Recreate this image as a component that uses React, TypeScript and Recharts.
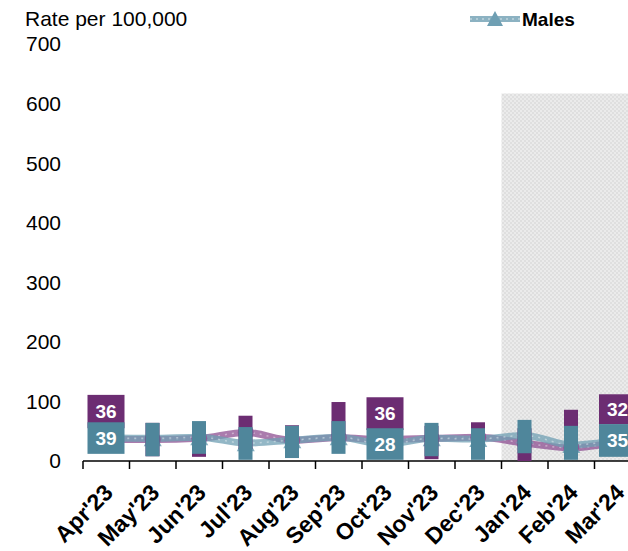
import { ComposedChart, Line, Bar, XAxis, YAxis } from "recharts";

const months = [
  "Apr'23", "May'23", "Jun'23", "Jul'23", "Aug'23", "Sep'23",
  "Oct'23", "Nov'23", "Dec'23", "Jan'24", "Feb'24", "Mar'24",
];
const females = [36, 36, 38, 48, 35, 39, 36, 38, 40, 30, 22, 32];
const males = [39, 38, 40, 30, 35, 40, 28, 38, 37, 43, 27, 35];

// label box extents (rate units) as they sit in the original
const femaleBoxLow = [55, 8, 7, 20, 5, 44, 52, 3, 10, 0, 30, 62];
const femaleBoxHigh = [111, 64, 62, 76, 60, 99, 107, 59, 65, 55, 86, 112];
const maleBoxLow = [12, 8, 12, 2, 5, 12, 2, 8, 2, 13, 2, 7];
const maleBoxHigh = [65, 64, 67, 57, 59, 67, 55, 64, 55, 69, 59, 62];

const shadeTop = [null, null, null, null, null, null, null, null, null, 617, 617, 617];
const labelledMonths = ["Apr'23", "Oct'23", "Mar'24"];
const yTicks = [0, 100, 200, 300, 400, 500, 600, 700];

const data = months.map((month, i) => ({
  month,
  females: females[i],
  males: males[i],
  fBox: [femaleBoxLow[i], femaleBoxHigh[i]],
  mBox: [maleBoxLow[i], maleBoxHigh[i]],
  shade: shadeTop[i],
  labelled: labelledMonths.includes(month),
}));

const FONT = "'Liberation Sans', Arial, sans-serif";
const PURPLE = "#6c2d72";
const TEAL = "#4f869b";
const PURPLE_LINE = "#8d4f92";
const TEAL_LINE = "#6f9fb3";
const BAND = 558 / 12;

function LabelBox(props: any) {
  const { x, y, width, height, payload, fill, series } = props;
  if (x == null || y == null || !isFinite(y) || !height) return null;
  const w = payload.labelled ? 37 : 14;
  const cx = x + width / 2;
  const top = Math.min(y, y + height);
  const h = Math.abs(height);
  return (
    <g>
      <rect x={cx - w / 2} y={top} width={w} height={h} fill={fill} />
      {payload.labelled && (
        <text
          x={cx}
          y={top + h / 2}
          dy="0.36em"
          textAnchor="middle"
          fill="#fff"
          fontSize={19}
          fontWeight="bold"
          fontFamily={FONT}
        >
          {payload[series]}
        </text>
      )}
    </g>
  );
}

function MonthTick(props: any) {
  const { x, y, payload } = props;
  const tx = x + 8;
  const ty = y + 33;
  return (
    <g>
      <line x1={x - BAND / 2} y1={y} x2={x - BAND / 2} y2={y + 8} stroke="#000" strokeWidth={1.5} />
      <text
        x={tx}
        y={ty}
        transform={`rotate(-45, ${tx}, ${ty})`}
        textAnchor="end"
        fontSize={23}
        fontWeight="bold"
        fontFamily={FONT}
        fill="#000"
      >
        {payload.value}
      </text>
    </g>
  );
}

function CircleDot(props: any) {
  const { cx, cy, index } = props;
  if (cx == null || cy == null) return <g key={index} />;
  return <circle key={index} cx={cx} cy={cy} r={8} fill={PURPLE_LINE} fillOpacity={0.85} />;
}

function TriangleDot(props: any) {
  const { cx, cy, index } = props;
  if (cx == null || cy == null) return <g key={index} />;
  return (
    <path
      key={index}
      d={`M${cx},${cy - 8} L${cx + 9},${cy + 8} L${cx - 9},${cy + 8} Z`}
      fill={TEAL_LINE}
      fillOpacity={0.85}
    />
  );
}

export default function App() {
  return (
    <div
      style={{
        position: "fixed",
        left: 0,
        top: 0,
        width: 628,
        height: 551,
        overflow: "hidden",
        background: "#fff",
        fontFamily: FONT,
      }}
    >
      <div
        style={{
          position: "absolute",
          left: 25,
          top: 8,
          fontSize: 21,
          lineHeight: 1,
          color: "#000",
          zIndex: 2,
        }}
      >
        Rate per 100,000
      </div>
      <div
        style={{
          position: "absolute",
          left: 468,
          top: 9,
          display: "flex",
          alignItems: "center",
          fontSize: 19,
          fontWeight: "bold",
          lineHeight: 1,
          zIndex: 2,
        }}
      >
        <svg width={54} height={20}>
          <line x1={2} y1={10} x2={52} y2={10} stroke={TEAL_LINE} strokeWidth={6} strokeOpacity={0.8} />
          <line x1={2} y1={10} x2={52} y2={10} stroke="#fff" strokeWidth={1.5} strokeOpacity={0.45} strokeDasharray="2 4" />
          <path d="M27,2 L35,17 L19,17 Z" fill={TEAL_LINE} />
        </svg>
        <span>Males</span>
      </div>
      <div style={{ position: "absolute", left: 8, top: 8 }}>
        <ComposedChart
          width={660}
          height={543}
          data={data}
          margin={{ top: 36, right: 27, left: 0, bottom: 0 }}
          barCategoryGap={0}
          barGap={0}
        >
          <defs>
            <pattern id="shadeDots" width="4" height="4" patternUnits="userSpaceOnUse">
              <rect width="4" height="4" fill="#ebebeb" />
              <rect width="2" height="2" fill="#dfdfdf" />
              <rect x="2" y="2" width="2" height="2" fill="#dfdfdf" />
            </pattern>
          </defs>
          <XAxis
            dataKey="month"
            height={90}
            interval={0}
            tickLine={false}
            tickSize={0}
            tickMargin={0}
            axisLine={{ stroke: "#000", strokeWidth: 1.5 }}
            tick={<MonthTick />}
          />
          <XAxis xAxisId="shade" dataKey="month" hide />
          <XAxis xAxisId="fb" dataKey="month" hide />
          <XAxis xAxisId="mb" dataKey="month" hide />
          <YAxis
            domain={[0, 700]}
            ticks={yTicks}
            width={75}
            axisLine={false}
            tickLine={false}
            tickSize={0}
            tickMargin={22}
            tick={{ fontSize: 21, fill: "#000", fontFamily: FONT }}
          />
          <Bar
            xAxisId="shade"
            dataKey="shade"
            fill="url(#shadeDots)"
            isAnimationActive={false}
            zIndex={50}
          />
          <Line
            type="monotone"
            dataKey="females"
            stroke={PURPLE_LINE}
            strokeOpacity={0.75}
            strokeWidth={7}
            dot={<CircleDot />}
            activeDot={false}
            isAnimationActive={false}
          />
          <Line
            type="monotone"
            dataKey="females"
            stroke="#fff"
            strokeOpacity={0.4}
            strokeWidth={1.5}
            strokeDasharray="2 5"
            dot={false}
            activeDot={false}
            legendType="none"
            isAnimationActive={false}
          />
          <Line
            type="monotone"
            dataKey="males"
            stroke={TEAL_LINE}
            strokeOpacity={0.75}
            strokeWidth={7}
            dot={<TriangleDot />}
            activeDot={false}
            isAnimationActive={false}
          />
          <Line
            type="monotone"
            dataKey="males"
            stroke="#fff"
            strokeOpacity={0.4}
            strokeWidth={1.5}
            strokeDasharray="2 5"
            dot={false}
            activeDot={false}
            legendType="none"
            isAnimationActive={false}
          />
          <Bar
            xAxisId="fb"
            dataKey="fBox"
            barSize={14}
            fill={PURPLE}
            shape={(p: any) => <LabelBox {...p} series="females" />}
            isAnimationActive={false}
            zIndex={1000}
          />
          <Bar
            xAxisId="mb"
            dataKey="mBox"
            barSize={14}
            fill={TEAL}
            shape={(p: any) => <LabelBox {...p} series="males" />}
            isAnimationActive={false}
            zIndex={1001}
          />
        </ComposedChart>
      </div>
    </div>
  );
}
